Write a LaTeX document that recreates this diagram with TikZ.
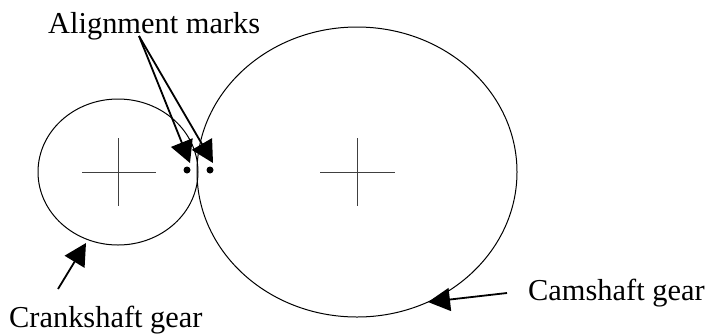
\documentclass[tikz,border=0pt]{standalone}
\usepackage{fontspec}
\setmainfont{Liberation Serif}
\usetikzlibrary{arrows.meta}
\tikzset{
  gearline/.style={draw=black,line width=1pt},
  crossline/.style={draw=black!75,line width=0.8pt},
  pointer/.style={draw=black,line width=1.8pt,-{Triangle[length=22pt,width=23pt]}},
  lbl/.style={font=\fontsize{30.4}{30.4}\selectfont,inner sep=0pt,text=black},
  markdot/.style={circle,fill=black,inner sep=0pt,minimum size=7pt}
}
\begin{document}
\begin{tikzpicture}[x=1pt,y=-1pt]
\useasboundingbox (0,0) rectangle (708,333);
\draw[gearline] (118,172) ellipse [x radius=80,y radius=73];
\draw[gearline] (357,172) ellipse [x radius=160,y radius=145];
\coordinate (c1l) at (82,172); \coordinate (c1r) at (156,172);
\coordinate (c1t) at (118,138); \coordinate (c1b) at (118,206);
\coordinate (c2l) at (320,172); \coordinate (c2r) at (395,172);
\coordinate (c2t) at (357,138); \coordinate (c2b) at (357,206);
\draw[crossline] (c1l) -- (c1r);
\draw[crossline] (c1t) -- (c1b);
\draw[crossline] (c2l) -- (c2r);
\draw[crossline] (c2t) -- (c2b);
\node[markdot] (d1) at (187,170) {};
\node[markdot] (d2) at (210,170) {};
\node[lbl,anchor=base west] (align) at (48,33) {Alignment marks};
\node[lbl,anchor=base west] (crank) at (9,327) {Crankshaft gear};
\node[lbl,anchor=base west] (cam) at (528,300) {Camshaft gear};
\coordinate (from) at (139,36);
\coordinate (t1) at (190,163);
\coordinate (t2) at (213,163);
\coordinate (cs) at (58,289);
\coordinate (ct) at (86,243);
\coordinate (as) at (507,293);
\coordinate (at) at (428,302);
\draw[pointer] (from) -- (t1);
\draw[pointer] (from) -- (t2);
\draw[pointer] (cs) -- (ct);
\draw[pointer] (as) -- (at);
\end{tikzpicture}
\end{document}
